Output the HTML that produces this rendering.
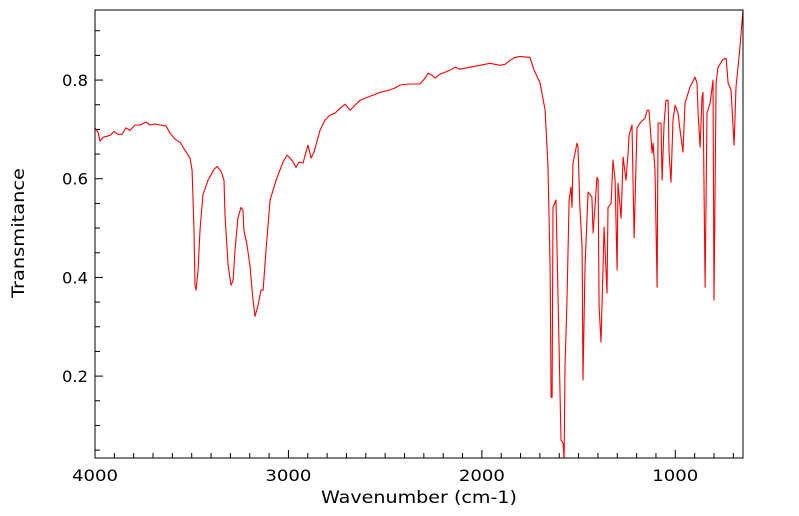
<!DOCTYPE html>
<html><head><meta charset="utf-8"><style>
html,body{margin:0;padding:0;background:#fff;}
svg{display:block;font-family:"DejaVu Sans","Liberation Sans",sans-serif;}
</style></head><body>
<svg id="chart" width="799" height="516"></svg>
<script>
const wavenumbers=[4000,3984,3974,3958,3922,3902,3881,3860,3840,3819,3793,3767,3736,3715,3690,3664,3633,3612,3586,3560,3535,3509,3498,3488,3483,3478,3467,3457,3442,3416,3385,3369,3348,3333,3328,3312,3297,3286,3276,3261,3245,3235,3230,3214,3199,3183,3173,3157,3142,3131,3116,3095,3064,3028,3007,2992,2976,2961,2945,2924,2914,2899,2883,2868,2837,2811,2785,2759,2733,2707,2681,2656,2630,2578,2526,2475,2449,2423,2371,2320,2294,2278,2258,2242,2216,2165,2139,2113,2061,2009,1958,1932,1906,1880,1854,1828,1803,1751,1730,1699,1673,1658,1647,1642,1637,1632,1617,1606,1591,1580,1575,1570,1560,1549,1539,1534,1529,1508,1503,1493,1482,1477,1467,1451,1431,1425,1405,1399,1394,1384,1368,1353,1348,1332,1322,1311,1301,1296,1280,1270,1255,1244,1239,1224,1213,1198,1182,1167,1156,1146,1136,1120,1115,1105,1094,1089,1074,1068,1058,1048,1037,1032,1022,1012,1001,986,975,960,950,924,898,888,882,872,862,857,846,836,820,805,800,789,779,753,737,727,712,696,686,666,650];
const transmittance=[0.703,0.694,0.676,0.684,0.688,0.696,0.690,0.690,0.703,0.698,0.709,0.709,0.715,0.709,0.711,0.709,0.707,0.692,0.680,0.674,0.658,0.642,0.617,0.496,0.384,0.374,0.415,0.496,0.567,0.597,0.619,0.625,0.615,0.597,0.526,0.425,0.384,0.394,0.455,0.520,0.542,0.536,0.496,0.466,0.425,0.354,0.321,0.344,0.374,0.374,0.455,0.557,0.597,0.634,0.648,0.642,0.634,0.623,0.634,0.632,0.648,0.668,0.642,0.654,0.698,0.719,0.729,0.733,0.743,0.751,0.739,0.749,0.759,0.767,0.775,0.780,0.784,0.790,0.792,0.792,0.804,0.814,0.810,0.804,0.812,0.820,0.826,0.822,0.826,0.830,0.834,0.832,0.830,0.832,0.840,0.846,0.848,0.846,0.820,0.794,0.739,0.624,0.421,0.157,0.157,0.542,0.557,0.354,0.070,0.064,0.030,0.218,0.354,0.557,0.583,0.542,0.632,0.672,0.664,0.542,0.461,0.192,0.421,0.573,0.563,0.490,0.603,0.597,0.340,0.269,0.502,0.368,0.542,0.550,0.638,0.597,0.415,0.591,0.520,0.644,0.597,0.652,0.688,0.709,0.480,0.703,0.713,0.719,0.723,0.739,0.739,0.652,0.672,0.617,0.380,0.713,0.713,0.597,0.713,0.759,0.759,0.652,0.593,0.719,0.749,0.733,0.698,0.654,0.753,0.786,0.806,0.794,0.733,0.664,0.765,0.775,0.380,0.733,0.753,0.800,0.354,0.794,0.826,0.842,0.844,0.794,0.780,0.668,0.786,0.865,0.942];
const xTickLabels=[4000,3000,2000,1000];
const yTickLabels=[0.2,0.4,0.6,0.8];

const NS="http://www.w3.org/2000/svg";
const svg=document.getElementById('chart');
const L=95,R=743,T=10,B=458;
const X0=4000,X1=650,Y0=0.034,Y1=0.942;
const xs=v=>L+(X0-v)/(X0-X1)*(R-L);
const ys=v=>B-(v-Y0)/(Y1-Y0)*(B-T);
function mk(tag,attrs){const e=document.createElementNS(NS,tag);for(const k in attrs)e.setAttribute(k,attrs[k]);svg.appendChild(e);return e;}

const clip=document.createElementNS(NS,'clipPath');clip.setAttribute('id','pc');
const cr=document.createElementNS(NS,'rect');cr.setAttribute('x',L);cr.setAttribute('y',T);cr.setAttribute('width',R-L);cr.setAttribute('height',B-T);
clip.appendChild(cr);svg.appendChild(clip);

for(let v=4000;v>=700;v-=100){
  const x=xs(v);const major=v%1000===0;
  const t=mk('line',{x1:x,x2:x,y1:B,y2:B-(major?8:5),stroke:'#000','stroke-width':1});
  
  
}
for(let i=1;i<=18;i++){
  const v=+(i*0.05).toFixed(2);const y=ys(v);if(y<T||y>B)continue;
  const major=Math.abs(v*10-Math.round(v*10))<1e-6&&Math.round(v*10)%2===0;
  const t=mk('line',{x1:L,x2:L+(major?8:5),y1:y,y2:y,stroke:'#000','stroke-width':1});
  
  
}
xTickLabels.forEach(v=>{
  const t=mk('text',{x:xs(v),y:481,'font-size':16,'text-anchor':'middle',fill:'#000',textLength:46,lengthAdjust:'spacingAndGlyphs'});
  t.textContent=v;
  
  
});
yTickLabels.forEach(v=>{
  const t=mk('text',{x:88,y:ys(v)+6,'font-size':16,'text-anchor':'end',fill:'#000',textLength:26,lengthAdjust:'spacingAndGlyphs'});
  t.textContent=v.toFixed(1);
  
  
});
const xt=mk('text',{x:419,y:503,'font-size':17,'text-anchor':'middle',fill:'#000',textLength:196,lengthAdjust:'spacingAndGlyphs'});
xt.textContent='Wavenumber (cm-1)';


const yt=mk('text',{x:0,y:0,'font-size':17,'text-anchor':'middle',fill:'#000',transform:'translate(24,233) rotate(-90)',textLength:130,lengthAdjust:'spacingAndGlyphs'});
yt.textContent='Transmitance';



let d='';
wavenumbers.forEach((w,i)=>{d+=(i?'L':'M')+xs(w).toFixed(1)+','+ys(transmittance[i]).toFixed(1);});
const p=mk('path',{d:d,fill:'none',stroke:'#ff0000','stroke-width':1.1,'clip-path':'url(#pc)','stroke-linejoin':'round'});



const fr=mk('rect',{x:L,y:T,width:R-L,height:B-T,fill:'none',stroke:'#000','stroke-width':1});


</script>
</body></html>
